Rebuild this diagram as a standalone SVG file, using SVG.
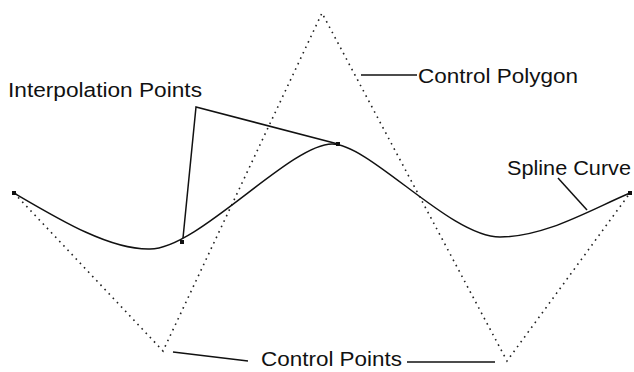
<svg xmlns="http://www.w3.org/2000/svg" width="634" height="372" viewBox="0 0 634 372">
<style>
.lbl{font-family:"Liberation Sans",Arial,sans-serif;font-size:20.5px;fill:#111}
.ld{fill:none;stroke:#111;stroke-width:1.5}
.poly{fill:none;stroke:#222;stroke-width:1.6;stroke-dasharray:1.6 4.4;stroke-linecap:butt}
.pt{fill:#111}
</style>
<rect width="634" height="372" fill="#fff"/>
<g id="control-polygon">
<polyline class="poly" points="14,193 163,351 322,13 507,361 630,193"/>
</g>
<g id="spline-curve">
<path class="ld" d="M14,193 C60,220 110,250 150,249 C198,249 290,144 332,144 C370,144 450,237 500,237 C545,237 590,210 630,193"/>
<rect class="pt" x="12" y="191" width="4" height="4"/>
<rect class="pt" x="628" y="191" width="4" height="4"/>
<rect class="pt" x="336" y="142" width="4" height="4"/>
<rect class="pt" x="180" y="240" width="4" height="4"/>
</g>
<g id="connectors">
<polyline class="ld" points="183,238 196,107 338,144"/>
<line class="ld" x1="361" y1="75" x2="417" y2="75"/>
<line class="ld" x1="558" y1="178" x2="587" y2="210"/>
<line class="ld" x1="173" y1="352" x2="248" y2="361"/>
<line class="ld" x1="407" y1="362" x2="495" y2="362"/>
</g>
<g id="label-interpolation">
<text class="lbl" x="8" y="97" textLength="194" lengthAdjust="spacingAndGlyphs">Interpolation Points</text>
</g>
<g id="label-polygon">
<text class="lbl" x="418" y="83" textLength="160" lengthAdjust="spacingAndGlyphs">Control Polygon</text>
</g>
<g id="label-spline">
<text class="lbl" x="507" y="175" textLength="124" lengthAdjust="spacingAndGlyphs">Spline Curve</text>
</g>
<g id="label-points">
<text class="lbl" x="261" y="366" textLength="141" lengthAdjust="spacingAndGlyphs">Control Points</text>
</g>
</svg>
